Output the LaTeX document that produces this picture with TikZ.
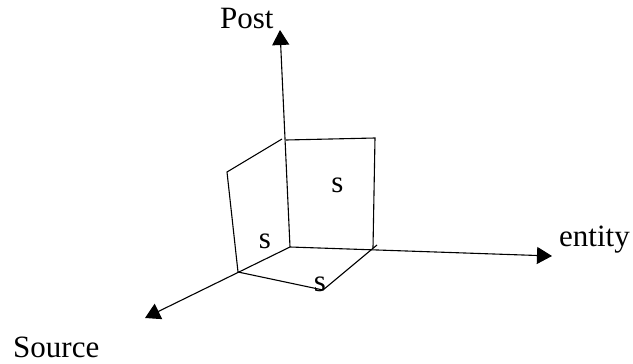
\documentclass[tikz,border=0pt]{standalone}
\usepackage{fontspec}
\setmainfont{Liberation Serif}
\usetikzlibrary{arrows.meta}
\begin{document}
\begin{tikzpicture}[x=1pt,y=-1pt,
  axis/.style={line width=1.1pt,-{Triangle[length=15pt,width=17pt]}},
  edge/.style={line width=1.1pt},
  lbl/.style={font=\fontsize{31}{31}\selectfont,inner sep=0pt,anchor=base west},
  slbl/.style={font=\fontsize{31}{31}\selectfont,inner sep=0pt,anchor=base}]
\useasboundingbox (0,0) rectangle (633,364);
% axes
\coordinate (O) at (290,247);
\coordinate (Ptip) at (280,30);
\coordinate (Etip) at (552,256);
\coordinate (Stip) at (145,318);
\draw[axis] (O) -- (Ptip);
\draw[axis] (O) -- (Etip);
\draw[axis] (O) -- (Stip);
% labels
\node[lbl] (post) at (220,28) {Post};
\node[lbl] (entity) at (559,246) {entity};
\node[lbl] (source) at (13,357) {Source};
% front plane
\coordinate (A) at (286,140);
\coordinate (B) at (375,138);
\coordinate (C) at (373,248);
\draw[edge] (A) -- (B) -- (C);
% left plane
\coordinate (D) at (282,139);
\coordinate (F) at (227,172);
\coordinate (G) at (238,272);
\draw[edge] (D) -- (F) -- (G);
% bottom plane
\coordinate (H) at (323,290);
\coordinate (I) at (377,245);
\draw[edge] (G) -- (H) -- (I);
% s labels
\node[slbl] (s1) at (337.5,192) {s};
\node[slbl] (s2) at (265,248) {s};
\node[slbl] (s3) at (320,291) {s};
\end{tikzpicture}
\end{document}
